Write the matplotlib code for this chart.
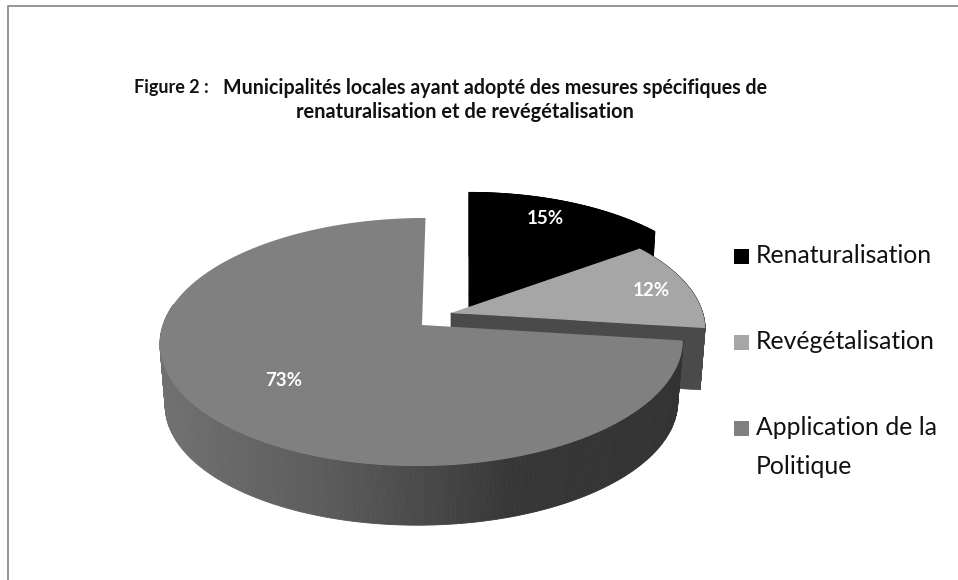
#!/usr/bin/python3

import numpy as np
import matplotlib
matplotlib.use('Agg')
import matplotlib.pyplot as plt

# chart values
categories = ['Renaturalisation', 'Revégétalisation', 'Application de la\nPolitique']
values = [15, 12, 73]
top_colors = ['#000000', '#a6a6a6', '#808080']
title_tag = 'Figure 2 :'
title_line1 = 'Municipalités locales ayant adopté des mesures spécifiques de'
title_line2 = 'renaturalisation et de revégétalisation'

# pie look, in pixels of the picture
RX = 259.0
RY = 121.7
PERSP = 0.137
DEPTH = 62
VERTEX = [(469, 295), (451, 313), (422, 325)]
SCALE = [0.958, 0.972, 1.0]
SHEAR = [0, 0, 4]
LABEL_POS = [(545, 219), (651, 291), (284, 380)]
LEGEND_Y = [256, 342, 428]


def rim(start, end, vertex, scale, shear=0, depth=0):
    # points of the rim from start to end, in degrees clockwise from 12 o'clock
    ang = np.radians(np.linspace(start, end, 200))
    x = np.sin(ang)
    y = np.cos(ang)
    w = 1 + PERSP * y
    if depth:
        scale = scale * 0.98
    px = vertex[0] + scale * (RX * x + shear * y) / w
    py = vertex[1] + depth - scale * RY * y / w
    return px, py


def draw_wall(ax, start, end, vertex, scale, shear, side, zorder):
    # outer wall, shaded by position
    tx, ty = rim(start, end, vertex, scale, shear)
    bx, by = rim(start, end, vertex, scale, shear, DEPTH)
    for i in range(len(tx) - 1):
        c = side(0.5 * (tx[i] + tx[i + 1]))
        ax.fill([tx[i], tx[i + 1], bx[i + 1], bx[i]],
                [ty[i], ty[i + 1], by[i + 1], by[i]],
                color=c, lw=0.6, zorder=zorder)
    return tx, ty, bx, by


def main():
    fig = plt.figure(figsize=(9.58, 5.8), dpi=100)
    ax = fig.add_axes([0, 0, 1, 1])
    ax.set_xlim(0, 958)
    ax.set_ylim(580, 0)
    ax.axis('off')

    # frame
    ax.plot([8, 8, 958], [580, 6, 6], color='#8c8c8c', lw=1.3, zorder=1)

    # slice angles from the values
    edges = np.cumsum([0] + values) * 3.6

    # black slice
    tx, ty, bx, by = draw_wall(ax, edges[0], edges[1], VERTEX[0], SCALE[0], SHEAR[0], lambda x: '#000000', 2)
    ax.fill(np.r_[VERTEX[0][0], tx], np.r_[VERTEX[0][1], ty], color=top_colors[0], lw=0.8, zorder=3)
    ax.fill([VERTEX[0][0], tx[-1], bx[-1], VERTEX[0][0]],
            [VERTEX[0][1], ty[-1], by[-1], VERTEX[0][1] + DEPTH], color='#000000', lw=0.8, zorder=3)

    # light slice with its dark cut face
    tx, ty, bx, by = draw_wall(ax, edges[1], edges[2], VERTEX[1], SCALE[1], SHEAR[1], lambda x: '#4a4a4a', 4)
    ax.fill([VERTEX[1][0], tx[-1], bx[-1], VERTEX[1][0]],
            [VERTEX[1][1], ty[-1], by[-1], VERTEX[1][1] + DEPTH], color='#4a4a4a', lw=0.5, zorder=4)
    ax.fill(np.r_[VERTEX[1][0], tx], np.r_[VERTEX[1][1], ty], color=top_colors[1], lw=0, zorder=5)

    # big slice, wall only on the part turned to the viewer
    def big_side(x):
        return str(np.interp(x, [165, 325, 436, 510, 677], [0.44, 0.36, 0.28, 0.215, 0.2]))

    draw_wall(ax, edges[2], 280, VERTEX[2], SCALE[2], SHEAR[2], big_side, 6)
    tx, ty = rim(edges[2], edges[3], VERTEX[2], SCALE[2], SHEAR[2])
    ax.fill(np.r_[VERTEX[2][0], tx], np.r_[VERTEX[2][1], ty], color=top_colors[2], lw=0, zorder=7)

    # percent labels
    for v, pos in zip(values, LABEL_POS):
        ax.text(pos[0], pos[1], '%d%%' % v, color='white', family='Lato', weight='bold',
                fontsize=13.5, ha='center', va='center', zorder=8)

    # legend
    for name, color, y in zip(categories, top_colors, LEGEND_Y):
        ax.fill([734, 749, 749, 734], [y - 7.5, y - 7.5, y + 7.5, y + 7.5], color=color, lw=0)
        ax.text(756, y - 12, name, family='Lato', fontsize=17.8, color='#111111',
                ha='left', va='top', linespacing=1.85)

    # title
    ax.text(134, 88, title_tag, family='Lato', weight='bold', fontsize=13, ha='left', va='center', color='#111111')
    ax.text(223, 88, title_line1, family='Lato', weight='bold', fontsize=14.15, ha='left', va='center', color='#111111')
    ax.text(296, 112, title_line2, family='Lato', weight='bold', fontsize=14.4, ha='left', va='center', color='#111111')

    fig.savefig('out.png', dpi=100)


main()
